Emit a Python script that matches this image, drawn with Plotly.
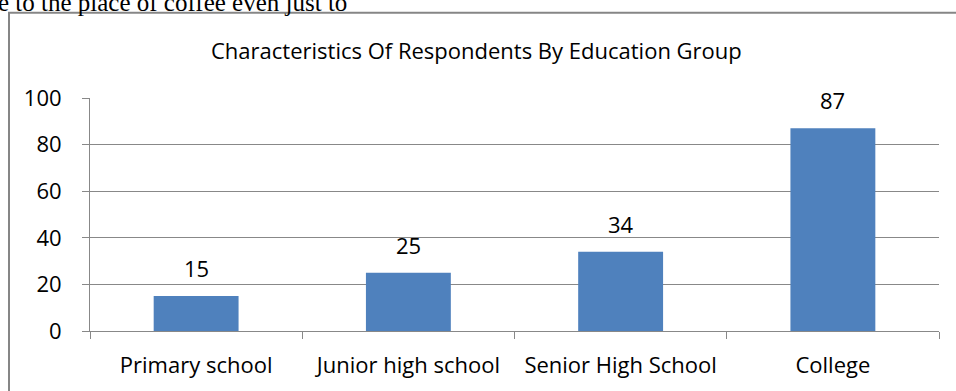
import plotly.graph_objects as go

categories = ["Primary school", "Junior high school", "Senior High School", "College"]
values = [15, 25, 34, 87]
y_ticks = [0, 20, 40, 60, 80, 100]
title_text = "Characteristics Of Respondents By Education Group"
doc_text = "le to the place of coffee even just to"

W, H = 956, 391
L, R, T, B = 90, 17, 98, 58
pw, ph = W - L - R, H - T - B

def px_x(x):
    return (x - L) / pw

def px_y(y):
    return (H - B - y) / ph

FONT = "Open Sans"
FS = 22

fig = go.Figure(go.Bar(
    x=categories, y=values,
    marker=dict(color="#4F81BD", line=dict(width=0)),
    width=0.4,
    hoverinfo="x+y",
))

annotations = [
    dict(text=title_text, xref="paper", yref="paper", x=px_x(476), y=px_y(50),
         xanchor="center", yanchor="middle", showarrow=False,
         font=dict(family=FONT, size=FS, color="#000000")),
    dict(text=doc_text, xref="paper", yref="paper", x=px_x(-11), y=px_y(17),
         xanchor="left", yanchor="bottom", showarrow=False,
         font=dict(family="Liberation Serif", size=25, color="#000000")),
]
for c, v in zip(categories, values):
    annotations.append(dict(text=str(v), x=c, y=v, xref="x", yref="y",
                            xanchor="center", yanchor="bottom", yshift=11,
                            showarrow=False,
                            font=dict(family=FONT, size=FS, color="#000000")))

fig.update_layout(
    width=W, height=H,
    margin=dict(l=L, r=R, t=T, b=B, pad=0),
    paper_bgcolor="white", plot_bgcolor="white",
    showlegend=False,
    font=dict(family=FONT, size=FS, color="#000000"),
    shapes=[dict(type="rect", xref="paper", yref="paper",
                 x0=px_x(9), x1=px_x(1000), y0=px_y(420), y1=px_y(12),
                 line=dict(color="#868686", width=2), fillcolor="rgba(0,0,0,0)", layer="below")],
    annotations=annotations,
)

fig.update_xaxes(
    type="category", showgrid=False, showline=True, linecolor="#888888", linewidth=1,
    ticks="outside", ticklen=7, tickcolor="#888888", tickson="boundaries",
    tickfont=dict(family=FONT, size=FS, color="#000000"), ticklabelstandoff=15,
    range=[-0.5, 3.5],
)
fig.update_yaxes(
    range=[0, 100], tickvals=y_ticks, showgrid=True, gridcolor="#888888", gridwidth=1,
    showline=True, linecolor="#888888", linewidth=1, ticks="outside", ticklen=7,
    tickcolor="#888888", zeroline=False,
    tickfont=dict(family=FONT, size=FS, color="#000000"), ticklabelstandoff=16,
)

fig.write_html("out.html")
